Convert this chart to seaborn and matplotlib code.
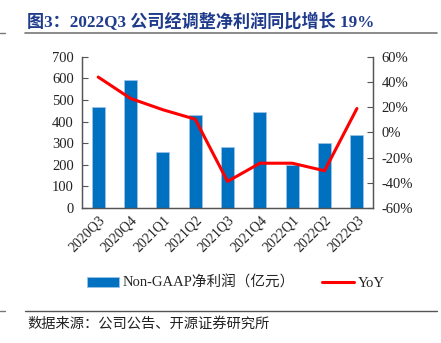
import matplotlib
matplotlib.use("Agg")
import matplotlib.pyplot as plt
import seaborn as sns
import pandas as pd
from matplotlib.lines import Line2D
from matplotlib.patches import Patch

quarters = ["2020Q3", "2020Q4", "2021Q1", "2021Q2", "2021Q3",
            "2021Q4", "2022Q1", "2022Q2", "2022Q3"]
profit = [470, 592, 261, 432, 284, 445, 198, 301, 337]
yoy = [44, 27, 18, 10.5, -39, -24.5, -24.5, -30.5, 19]

left_ticks = [0, 100, 200, 300, 400, 500, 600, 700]
right_ticks = [-60, -40, -20, 0, 20, 40, 60]

title = "图3：2022Q3 公司经调整净利润同比增长 19%"
source = "数据来源：公司公告、开源证券研究所"
bar_label = "Non-GAAP净利润（亿元）"
line_label = "YoY"

sns.set_theme(style="white")
fonts = ["Liberation Serif", "Noto Sans CJK SC", "DejaVu Sans"]
plt.rcParams["font.family"] = fonts

df = pd.DataFrame({"quarter": quarters, "profit": profit, "yoy": yoy,
                   "pos": range(len(quarters))})

fig = plt.figure(figsize=(4.41, 3.43), dpi=100)
ax = fig.add_axes([0.186, 0.394, 0.660, 0.440])

bar_color = "#0070C0"
sns.barplot(data=df, x="quarter", y="profit", color=bar_color, width=0.4,
            saturation=1, edgecolor="#9CC3E6", linewidth=0.6, ax=ax)
ax.set_xlim(-0.5, len(quarters) - 0.5)
ax.set_ylim(0, 700)
ax.set_yticks(left_ticks)
ax.set_yticklabels([str(v) for v in left_ticks], fontsize=10.5, color="#222222")
ax.set_xlabel("")
ax.set_ylabel("")
ax.set_xticks(range(len(quarters)))
ax.set_xticklabels(quarters, rotation=45, ha="right", rotation_mode="anchor",
                   fontsize=10, color="#222222")
ax.tick_params(axis="x", length=0, pad=4)
# minor ticks between categories on the bottom spine
ax.set_xticks([i + 0.5 for i in range(len(quarters) - 1)], minor=True)
ax.tick_params(axis="x", which="minor", direction="in", length=4, color="#555555", width=0.8)
ax.tick_params(axis="y", direction="in", length=4, color="#555555", width=0.8, pad=6)

ax2 = ax.twinx()
sns.lineplot(data=df, x="pos", y="yoy", color="#FF0000", linewidth=2.2, ax=ax2)
ax2.set_ylim(-60, 60)
ax2.set_yticks(right_ticks)
ax2.set_yticklabels([f"{v}%" for v in right_ticks], fontsize=10.5, color="#222222")
ax2.set_ylabel("")
ax2.set_xlabel("")
ax2.tick_params(axis="y", direction="in", length=4, color="#555555", width=0.8, pad=6)
ax2.set_xlim(-0.5, len(quarters) - 0.5)

for a in (ax, ax2):
    a.spines["top"].set_visible(False)
    for s in ("left", "right", "bottom"):
        a.spines[s].set_color("#555555")
        a.spines[s].set_linewidth(0.9)
    a.grid(False)

handles = [Patch(facecolor=bar_color, edgecolor="#9CC3E6", linewidth=0.6),
           Line2D([0], [0], color="#FF0000", linewidth=2.2)]
fig.legend(handles, [bar_label, line_label], loc="center",
           bbox_to_anchor=(0.535, 0.175), ncol=2, frameon=False,
           fontsize=10.5, handlelength=2.2, handleheight=0.6, handletextpad=0.25,
           columnspacing=1.9)

fig.text(0.062, 0.935, title, fontsize=12.3, fontweight="bold", color="#1F3B8C",
         ha="left", va="center")
fig.add_artist(Line2D([0.057, 0.99], [0.904, 0.904], color="#777777", linewidth=1.2))
fig.add_artist(Line2D([0.0, 0.012], [0.904, 0.904], color="#777777", linewidth=1.0))
fig.add_artist(Line2D([0.057, 0.99], [0.093, 0.093], color="#555555", linewidth=1.0))
fig.add_artist(Line2D([0.0, 0.012], [0.093, 0.093], color="#777777", linewidth=1.0))
fig.text(0.062, 0.056, source, fontsize=10.3, color="#222222", ha="left", va="center")

fig.savefig("out.png", dpi=100, facecolor="white")
